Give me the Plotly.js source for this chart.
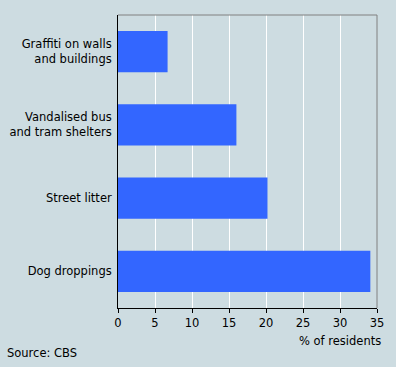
<!DOCTYPE html>
<html><head><meta charset="utf-8">
<script src="https://cdn.plot.ly/plotly-3.0.1.min.js"></script>
<style>html,body{margin:0;padding:0;background:#cddce1;}</style>
</head><body>
<div id="chart" style="width:396px;height:367px;"></div>
<script>
const categories = ["Graffiti on walls<br>and buildings", "Vandalised bus<br>and tram shelters", "Street litter", "Dog droppings"];
const values = [6.7, 16.0, 20.2, 34.1];
const tickVals = [0, 5, 10, 15, 20, 25, 30, 35];
const xTitle = "% of residents";
const source = "Source: CBS";

const font = {family: "DejaVu Sans, Verdana, sans-serif", size: 11.5, color: "#000"};

Plotly.newPlot("chart", [{
  type: "bar",
  orientation: "h",
  y: categories,
  x: values,
  width: 0.56,
  marker: {color: "#3366ff"},
  hoverinfo: "none"
}], {
  width: 396, height: 367,
  margin: {l: 118, r: 19, t: 15, b: 59},
  paper_bgcolor: "#cddce1",
  plot_bgcolor: "#cddce1",
  font: font,
  showlegend: false,
  xaxis: {
    range: [0, 35],
    tickvals: tickVals,
    ticks: "outside", ticklen: 4, tickcolor: "#000",
    showline: true, linecolor: "#000", linewidth: 1,
    showgrid: true, gridcolor: "#ffffff", gridwidth: 1,
    zeroline: false,
    tickfont: font
  },
  yaxis: {
    autorange: "reversed",
    showline: true, linecolor: "#000", linewidth: 1,
    ticks: "", showgrid: false, zeroline: false,
    ticklabelstandoff: 3,
    tickfont: font
  },
  shapes: [
    {type: "line", xref: "paper", yref: "paper", x0: 0, x1: 1, y0: 1, y1: 1, line: {color: "#808080", width: 1}},
    {type: "line", xref: "paper", yref: "paper", x0: 1, x1: 1, y0: 0, y1: 1, line: {color: "#808080", width: 1}}
  ],
  annotations: [
    {text: xTitle, xref: "paper", yref: "paper", x: 1.022, y: -0.083, xanchor: "right", yanchor: "top", showarrow: false, font: font},
    {text: source, xref: "paper", yref: "paper", x: -0.437, y: -0.123, xanchor: "left", yanchor: "top", showarrow: false, font: font}
  ]
}, {staticPlot: true, displayModeBar: false});
</script>
</body></html>
